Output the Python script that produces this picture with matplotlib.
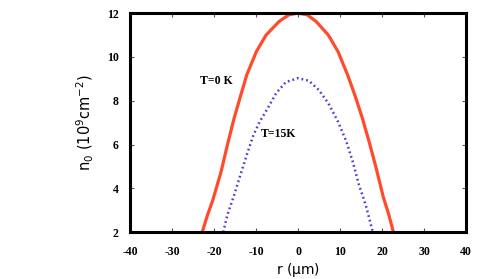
import matplotlib
matplotlib.use("Agg")
import matplotlib.pyplot as plt

# values
r_t0 = [-22.8, -21.6, -20.3, -18.3, -16.8, -15.2, -13.6, -12.2, -9.9, -7.6, -4.5, -2.2, 0.0,
        2.2, 4.3, 7.2, 9.5, 11.8, 13.5, 15.3, 16.9, 18.4, 20.3, 21.6, 22.7]
n_t0 = [2.0, 2.75, 3.45, 4.77, 5.99, 7.21, 8.27, 9.18, 10.25, 11.0, 11.62, 11.92, 12.0,
        11.92, 11.62, 11.0, 10.25, 9.18, 8.27, 7.21, 6.14, 5.07, 3.6, 2.8, 2.0]

r_t15 = [-17.8, -16.8, -15.2, -13.7, -12.2, -10.6, -9.1, -7.2, -5.2, -2.9, 0.0,
         2.6, 4.9, 7.2, 9.5, 11.5, 13.0, 14.5, 16.1, 17.8]
n_t15 = [2.0, 2.79, 3.7, 4.62, 5.53, 6.44, 7.05, 7.66, 8.35, 8.85, 9.03,
         8.91, 8.5, 7.89, 7.05, 6.14, 5.23, 4.16, 3.25, 2.0]

xticks = [-40, -30, -20, -10, 0, 10, 20, 30, 40]
yticks = [2, 4, 6, 8, 10, 12]

fig = plt.figure(figsize=(4.85, 2.79), dpi=100)
ax = fig.add_axes([0.268, 0.168, 0.693, 0.785])

ax.plot(r_t0, n_t0, color="#ff4b2b", lw=2.3, solid_capstyle="butt")
ax.plot(r_t15, n_t15, color="#4b3fd2", lw=1.8, linestyle=(0, (0.7, 1.2)))

ax.set_xlim(-40, 40)
ax.set_ylim(2, 12)
ax.set_xticks(xticks)
ax.set_yticks(yticks)

tickfont = dict(family="Liberation Serif", weight="bold", size=8.5)
ax.set_xticklabels([str(v) for v in xticks], **tickfont)
ax.set_yticklabels([str(v) for v in yticks], **tickfont)
ax.tick_params(axis="x", direction="in", top=True, length=3, width=0.8,
               color="#555555", pad=10)
ax.tick_params(axis="y", direction="in", right=True, length=3, width=0.8,
               color="#555555", pad=8)

for s in ax.spines.values():
    s.set_linewidth(2.2)
    s.set_color("black")

ax.text(-19.5, 8.9, "T=0 K", fontdict=tickfont, ha="center", va="center")
ax.text(-4.7, 6.5, "T=15K", fontdict=tickfont, ha="center", va="center")

ax.set_xlabel(r"r ($\mathrm{\mu}$m)", fontsize=10, labelpad=2)
ax.set_ylabel(r"n$_0$ (10$^9$cm$^{-2}$)", fontsize=10.5, labelpad=8)

fig.savefig("out.png", dpi=100)
